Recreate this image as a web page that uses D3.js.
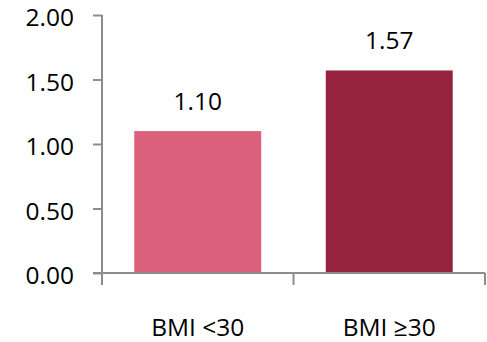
<!DOCTYPE html>
<html><head><meta charset="utf-8">
<script src="https://cdn.jsdelivr.net/npm/d3@7"></script>
<style>
html,body{margin:0;padding:0;background:#fff;}
svg{display:block;}
text{font-family:"Open Sans","Noto Sans",sans-serif;fill:#000;}
</style></head>
<body>
<svg id="chart" width="487" height="342"></svg>
<script>
const categories = ["BMI <30", "BMI \u226530"];
const values = [1.10, 1.57];
const colors = ["#DA607B", "#96233E"];
const yTicks = [0, 0.5, 1.0, 1.5, 2.0];

const svg = d3.select("#chart");
const x0 = 102, x1 = 485, yTop = 15, yBot = 273;
const axisColor = "#8c8c8c";
const fs = "24.5px";

const x = d3.scaleBand().domain(categories).range([x0, x1]).paddingInner(0.337).paddingOuter(0.1685);
const y = d3.scaleLinear().domain([0, 2]).range([yBot, yTop]);

// bars
svg.selectAll("rect.bar").data(values).join("rect")
  .attr("class","bar")
  .attr("x",(d,i)=>x(categories[i]))
  .attr("width",x.bandwidth())
  .attr("y",d=>y(d))
  .attr("height",d=>y(0)-y(d))
  .attr("fill",(d,i)=>colors[i]);

// y axis
const yAxis = d3.axisLeft(y).tickValues(yTicks).tickFormat(d3.format(".2f")).tickSize(9).tickPadding(19);
const gy = svg.append("g").attr("transform",`translate(${x0},0)`).call(yAxis);
gy.select(".domain").remove();
gy.selectAll(".tick line").attr("stroke",axisColor).attr("stroke-width",2);
gy.selectAll(".tick text").style("font-size",fs).style("font-family",'"Open Sans","Noto Sans",sans-serif')
  .attr("fill","#000").attr("dy","0.44em");
svg.append("line").attr("x1",x0).attr("x2",x0).attr("y1",y(2)).attr("y2",yBot+12)
  .attr("stroke",axisColor).attr("stroke-width",2);

// x axis line
svg.append("line").attr("x1",x0-9).attr("x2",x1).attr("y1",yBot).attr("y2",yBot)
  .attr("stroke",axisColor).attr("stroke-width",2);
// x tick marks at band boundaries
const bounds = d3.range(categories.length+1).map(i=>x0 + i*(x1-x0)/categories.length);
svg.selectAll("line.xt").data(bounds.slice(1)).join("line")
  .attr("class","xt")
  .attr("x1",d=>d).attr("x2",d=>d).attr("y1",yBot).attr("y2",yBot+12)
  .attr("stroke",axisColor).attr("stroke-width",2);

// category labels
svg.selectAll("text.cat").data(categories).join("text")
  .attr("class","cat")
  .attr("x",d=>x(d)+x.bandwidth()/2)
  .attr("y",335.5)
  .attr("text-anchor","middle")
  .style("font-size",fs)
  .text(d=>d);

// value labels
svg.selectAll("text.val").data(values).join("text")
  .attr("class","val")
  .attr("x",(d,i)=>x(categories[i])+x.bandwidth()/2)
  .attr("y",d=>y(d)-21)
  .attr("text-anchor","middle")
  .style("font-size",fs)
  .text(d=>d3.format(".2f")(d));
</script>
</body></html>
